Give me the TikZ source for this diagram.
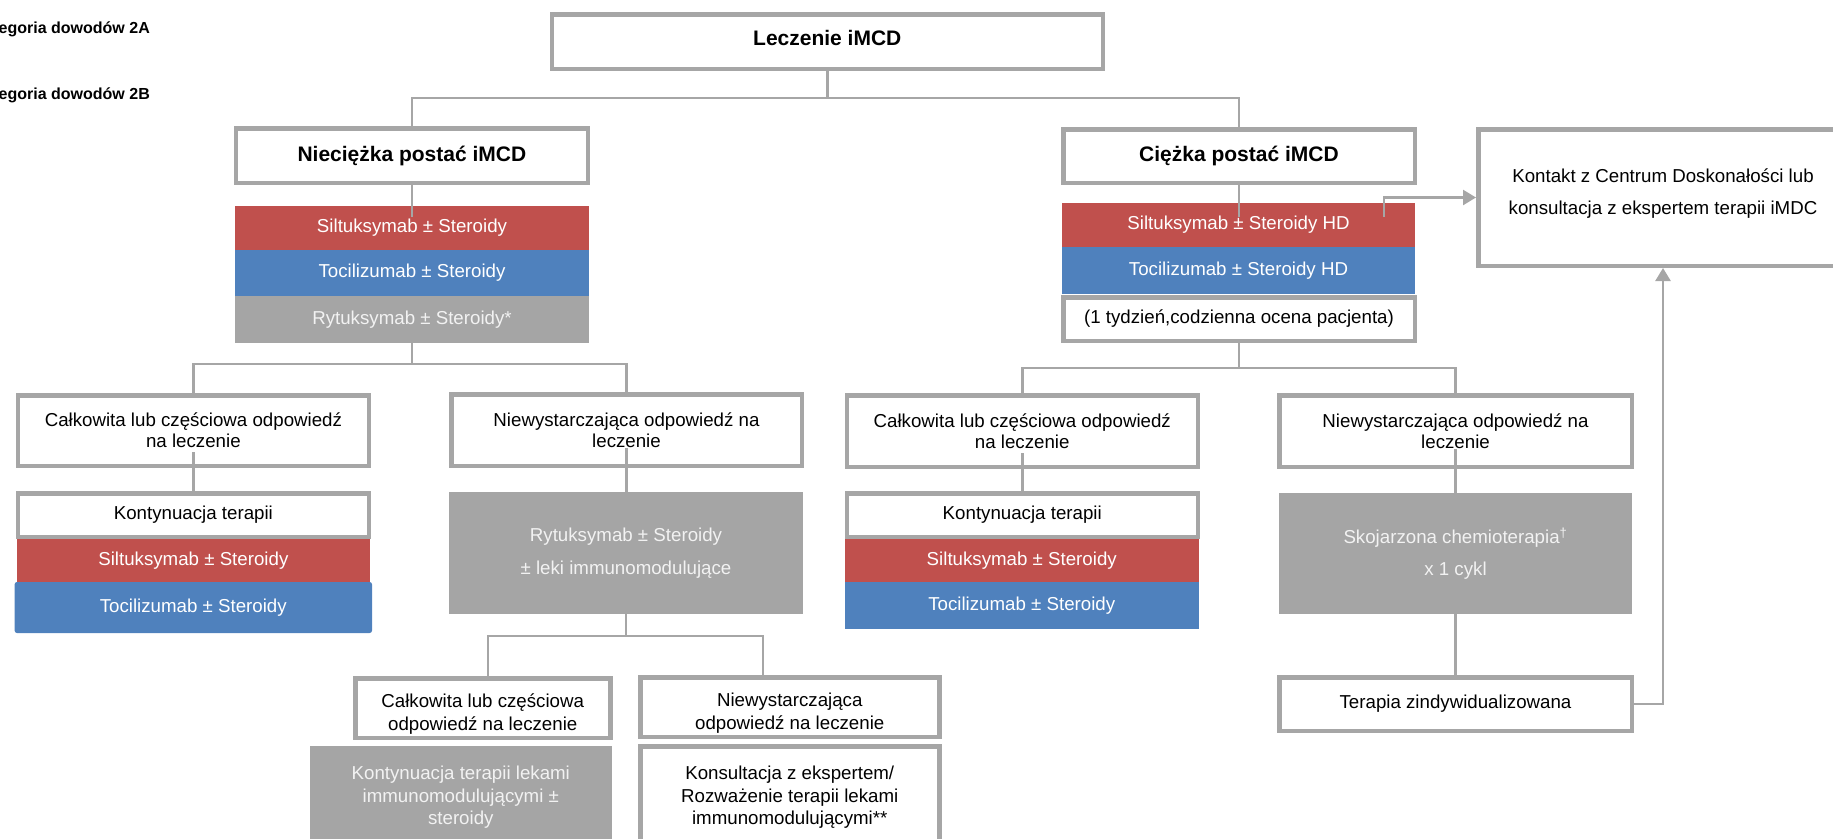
\documentclass[tikz,border=0pt]{standalone}
\usepackage{fontspec}
\setmainfont{Liberation Sans}
\usetikzlibrary{arrows.meta}
\definecolor{bordergray}{HTML}{A6A6A6}
\definecolor{redc}{HTML}{C0504D}
\definecolor{bluec}{HTML}{4F81BD}
\definecolor{grayc}{HTML}{A5A5A5}
\definecolor{lighttxt}{HTML}{F2F2F2}
\tikzset{
 wbox/.style={draw=bordergray, line width=4.5pt, fill=white, align=center, inner sep=0pt, text=black, font=\fontsize{18.7}{21}\selectfont},
 hbox/.style={wbox, font=\bfseries\fontsize{21}{25}\selectfont},
 fillbox/.style={draw=none, inner sep=0pt, align=center, text=white, font=\fontsize{18.7}{21}\selectfont},
 redbox/.style={fillbox, fill=redc},
 bluebox/.style={fillbox, fill=bluec},
 graybox/.style={fillbox, fill=grayc, text=lighttxt},
 conn/.style={draw=bordergray, line width=2.5pt},
 arrowtip/.style={-{Triangle[length=13pt,width=15pt]}},
 legendtxt/.style={anchor=east, inner sep=0pt, font=\bfseries\fontsize{16}{19}\selectfont}
}
\begin{document}
\begin{tikzpicture}[x=1pt,y=-1pt]
\useasboundingbox (0,0) rectangle (1833,838);

% legend
\node[legendtxt] (lg1) at (150,29) {egoria dowodów 2A};
\node[legendtxt] (lg2) at (150,95) {egoria dowodów 2B};

% top
\node[hbox, minimum width=550.9pt, minimum height=54.5pt, text depth=8pt] (lecz) at (827.3,41.5) {Leczenie iMCD};
\node[hbox, minimum width=351.8pt, minimum height=54.5pt] (nie) at (411.9,155.5) {Nieciężka postać iMCD};
\node[hbox, minimum width=351.5pt, minimum height=53.5pt] (cie) at (1239,156) {Ciężka postać iMCD};

% left stack
\node[redbox, minimum width=354pt, minimum height=44pt] (rs1) at (412,228) {Siltuksymab ± Steroidy};
\node[bluebox, minimum width=354pt, minimum height=46pt] (bs1) at (412,273) {Tocilizumab ± Steroidy};
\node[graybox, minimum width=354pt, minimum height=47pt] (gs1) at (412,319.5) {Rytuksymab ± Steroidy*};

% right stack
\node[redbox, minimum width=353pt, minimum height=44pt] (rs3) at (1238.5,225) {Siltuksymab ± Steroidy HD};
\node[bluebox, minimum width=353pt, minimum height=47pt] (bs3) at (1238.5,270.5) {Tocilizumab ± Steroidy HD};
\node[wbox, minimum width=351.5pt, minimum height=43.5pt] (tyd) at (1239,319) {(1 tydzień,codzienna ocena pacjenta)};

\node[wbox, minimum width=369.5pt, minimum height=136.5pt, font=\fontsize{18.7}{32}\selectfont, text depth=11pt] (kon) at (1663,197.5) {Kontakt z Centrum Doskonałości lub\\konsultacja z ekspertem terapii iMDC};

% left level 2
\node[wbox, minimum width=350.8pt, minimum height=70.5pt] (ca1) at (193.4,430.5) {Całkowita lub częściowa odpowiedź\\na leczenie};
\node[wbox, minimum width=350.5pt, minimum height=71.5pt] (nw1) at (626.5,430) {Niewystarczająca odpowiedź na\\leczenie};
\node[wbox, minimum width=350.8pt, minimum height=43.5pt] (kt1) at (193.4,515) {Kontynuacja terapii};
\node[redbox, minimum width=353.3pt, minimum height=43pt] (rs2) at (193.35,560.5) {Siltuksymab ± Steroidy};
\node[bluebox, draw=bluec, line width=1pt, rounded corners=2pt, minimum width=356.4pt, minimum height=50pt] (bs2) at (193.3,607.5) {Tocilizumab ± Steroidy};
\node[graybox, minimum width=354pt, minimum height=122pt, font=\fontsize{18.7}{33}\selectfont] (gr1) at (626,553) {Rytuksymab ± Steroidy\\± leki immunomodulujące};

% left level 3
\node[wbox, minimum width=255pt, minimum height=59.5pt, font=\fontsize{18.7}{23}\selectfont, text height=48pt] (ca2) at (482.75,708) {Całkowita lub częściowa\\odpowiedź na leczenie};
\node[wbox, minimum width=299pt, minimum height=59.5pt, font=\fontsize{18.7}{23}\selectfont, text height=48pt] (nw2) at (789.75,707) {Niewystarczająca\\odpowiedź na leczenie};
\node[graybox, minimum width=301.6pt, minimum height=103pt, font=\fontsize{18.7}{22.5}\selectfont] (gr2) at (460.8,797.5) {Kontynuacja terapii lekami\\immunomodulującymi ±\\steroidy};
\node[wbox, minimum width=299pt, minimum height=102.5pt, font=\fontsize{18.7}{22.5}\selectfont] (ks2) at (789.75,797.5) {Konsultacja z ekspertem/\\Rozważenie terapii lekami\\immunomodulującymi**};

% right level 2
\node[wbox, minimum width=351pt, minimum height=71.5pt] (ca3) at (1022.25,431) {Całkowita lub częściowa odpowiedź\\na leczenie};
\node[wbox, minimum width=352.5pt, minimum height=71.5pt] (nw3) at (1455.5,431) {Niewystarczająca odpowiedź na\\leczenie};
\node[wbox, minimum width=351pt, minimum height=43.5pt] (kt3) at (1022.25,515) {Kontynuacja terapii};
\node[redbox, minimum width=354.5pt, minimum height=43pt] (rs4) at (1021.75,560.5) {Siltuksymab ± Steroidy};
\node[bluebox, minimum width=354.5pt, minimum height=47pt] (bs4) at (1021.75,605.5) {Tocilizumab ± Steroidy};
\node[graybox, minimum width=353.4pt, minimum height=121pt, font=\fontsize{18.7}{32}\selectfont] (gr3) at (1455.5,553.5) {Skojarzona chemioterapia\textsuperscript{†}\\x 1 cykl};
\node[wbox, minimum width=352.5pt, minimum height=53.5pt] (ter) at (1455.5,704) {Terapia zindywidualizowana};

% connectors
\draw[conn] (lecz.south) -- ++(0,27) coordinate (j1);
\draw[conn] (nie.north) |- (j1) -| (cie.north);
\draw[conn] (nie.south) -- ([yshift=-11pt]rs1.north -| nie.south);
\draw[conn] (cie.south) -- ([yshift=-14pt]rs3.north -| cie.south);

\draw[conn] (gs1.south) -- ++(0,21) coordinate (j2);
\draw[conn] (ca1.north) |- (j2) -| (nw1.north);
\draw[conn] ([yshift=16pt]ca1.south) -- (kt1.north);
\draw[conn] ([yshift=20pt]nw1.south) -- (gr1.north -| nw1.south);

\draw[conn] (gr1.south) -- ++(0,22) coordinate (j3);
\draw[conn] ([xshift=5pt]ca2.north) |- (j3) -| ([xshift=-27pt]nw2.north);

\draw[conn] (tyd.south) -- ++(0,25) coordinate (j4);
\draw[conn] (ca3.north) |- (j4) -| (nw3.north);
\draw[conn] ([yshift=16pt]ca3.south) -- (kt3.north);
\draw[conn] ([yshift=20pt]nw3.south) -- (gr3.north);
\draw[conn] (gr3.south) -- (ter.north);

\draw[conn, arrowtip] (ter.east) -| (kon.south);
\draw[conn, arrowtip] ([xshift=-31pt,yshift=-14pt]rs3.north east) |- (kon.west);
\end{tikzpicture}
\end{document}
